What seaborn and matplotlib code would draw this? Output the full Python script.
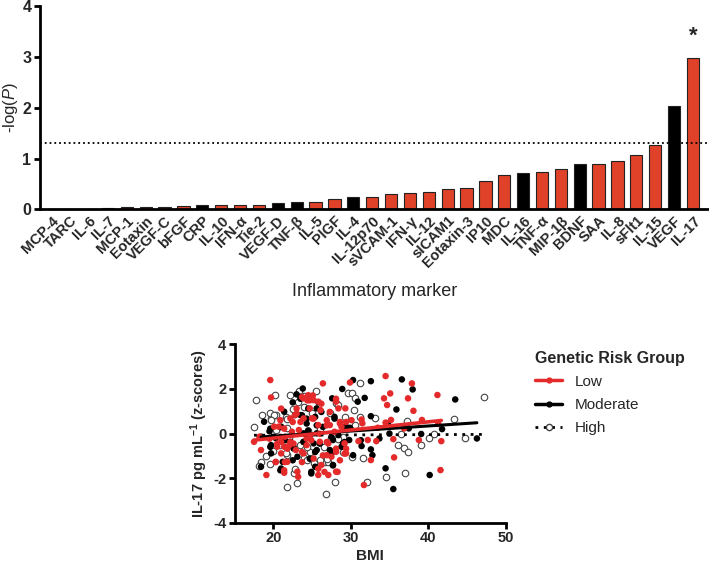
import numpy as np
import pandas as pd
import matplotlib
matplotlib.use('Agg')
import matplotlib.pyplot as plt
import seaborn as sns
from matplotlib.lines import Line2D

# ---- top panel: -log(P) per inflammatory marker ----
markers = ['MCP-4', 'TARC', 'IL-6', 'IL-7', 'MCP-1', 'Eotaxin', 'VEGF-C', 'bFGF', 'CRP',
           'IL-10', 'IFN-α', 'Tie-2', 'VEGF-D', 'TNF-β', 'IL-5', 'PlGF', 'IL-4', 'IL-12p70',
           'sVCAM-1', 'IFN-γ', 'IL-12', 'sICAM1', 'Eotaxin-3', 'IP10', 'MDC', 'IL-16',
           'TNF-α', 'MIP-1β', 'BDNF', 'SAA', 'IL-8', 'sFlt1', 'IL-15', 'VEGF', 'IL-17']
neg_log_p = [0.0, 0.0, 0.0, 0.03, 0.04, 0.04, 0.05, 0.06, 0.085,
             0.09, 0.09, 0.09, 0.12, 0.14, 0.14, 0.20, 0.25, 0.25,
             0.31, 0.33, 0.35, 0.40, 0.43, 0.56, 0.68, 0.72,
             0.73, 0.79, 0.89, 0.89, 0.96, 1.08, 1.26, 2.04, 2.99]
black_markers = ['CRP', 'VEGF-D', 'TNF-β', 'IL-4', 'IL-16', 'BDNF', 'VEGF']
significant = ['IL-17']
threshold = -np.log10(0.05)

# ---- bottom panel: IL-17 z-score vs BMI by genetic risk group ----
low_bmi = [19.6, 19.7, 21.0, 22.2, 23.0, 20.1, 22.4, 17.5, 18.2, 21.0, 20.5, 21.4, 18.4, 21.0,
           22.9, 20.3, 21.8, 21.4, 19.1, 23.1, 23.2, 20.9, 20.7, 21.5, 22.0, 22.6, 22.8,
           26.4, 24.5, 25.2, 25.8, 28.1, 23.9, 24.7, 26.1, 28.4, 23.9, 25.0, 26.9, 30.1,
           25.8, 27.3, 28.6, 23.3, 24.7, 27.9, 24.3, 26.0, 27.1, 29.2, 23.9, 26.9, 28.1,
           29.4, 25.2, 27.5, 26.2, 28.1, 25.8, 27.1,
           23.7, 24.4, 23.0, 23.5, 22.5, 21.4, 19.5, 20.5, 22.2, 24.3, 21.8, 23.7, 20.3,
           21.5, 23.7, 21.4, 25.1, 24.7, 26.2, 28.1, 25.2, 27.3, 28.6, 29.4, 26.9, 26.0,
           24.9, 26.9, 28.1, 29.4, 26.4, 28.6, 25.8, 26.6, 28.3,
           34.5, 29.9, 37.9, 34.3, 35.1, 37.4, 41.2, 34.7, 38.1, 29.3, 31.4, 31.5, 35.2,
           34.5, 39.2, 41.3, 36.9, 33.5, 28.8, 38.8, 41.7, 35.5, 33.3, 32.2, 31.0, 32.6,
           35.6, 41.6, 31.7, 29.2]
low_z = [2.40, 1.62, 1.12, 0.68, 1.12, 0.31, 0.08, -0.37, -0.14, -0.37, -0.59, -0.59, -0.74, -0.89,
         -0.74, -1.27, -1.27, -1.76, -1.86, -1.71, -1.94, 0.60, 0.31, -0.14, -0.55, -0.45, 0.83,
         2.25, 1.72, 1.50, 1.43, 1.43, 1.58, 1.13, 1.05, 1.13, 0.68, 0.68, 0.60, 0.60,
         0.38, 0.38, 0.45, 0.16, -0.14, 0.08, -0.52, -0.37, -0.44, -0.44, -0.89, -0.97, -0.82,
         -0.89, -1.12, -1.04, -1.41, -1.71, -1.86, -1.86,
         1.64, 1.49, 0.89, 0.52, 0.52, 0.22, -0.23, -0.45, -0.38, -0.23, -0.68, -0.83, -1.28,
         -1.28, -1.28, -1.65, 1.71, 1.49, 1.34, 1.56, 0.67, 0.97, 0.52, 0.52, 0.37, -0.01,
         -0.30, -0.38, -0.68, -0.68, -0.98, -1.20, -1.58, -1.72, -1.72,
         2.58, 2.29, 2.25, 1.58, 1.80, 1.58, 1.73, 1.28, 1.02, 1.13, 0.63, 0.46, 0.61,
         0.49, 0.61, 0.43, 0.23, 0.26, 0.31, -0.29, -0.34, -0.25, -0.34, -0.29, -0.34, -1.19,
         -1.07, -1.64, -2.31, -0.90]

mod_bmi = [23.0, 21.4, 22.8, 18.8, 21.0, 18.4, 19.7, 22.2, 19.7, 22.6, 23.1, 18.4, 21.2, 21.0,
           22.5, 20.3, 19.5,
           23.8, 23.5, 27.6, 25.6, 23.5, 25.4, 27.9, 24.3, 26.4, 29.4, 23.9, 25.6, 28.4, 23.9,
           25.2, 27.7, 29.8, 25.6, 27.3, 28.8, 25.4, 27.7, 24.9,
           23.5, 23.7, 24.3, 20.9, 19.6, 20.1, 21.5, 23.9, 19.6, 22.6, 22.5, 20.9,
           25.8, 24.5, 26.2, 27.9, 29.0, 25.6, 24.5, 27.5, 26.0, 29.2, 25.4, 27.5, 24.7, 27.7, 24.9,
           32.6, 36.6, 38.0, 28.9, 30.9, 43.5, 35.9, 32.6, 34.8, 41.8, 29.9, 46.3, 31.4, 32.6,
           32.8, 34.5, 40.2, 35.5, 30.3, 29.0, 30.3, 39.1, 31.8, 35.0, 37.5, 33.7, 31.3]
mod_z = [1.76, 0.98, 0.83, 0.53, 0.31, -0.14, -0.52, -0.37, -0.89, -0.67, -1.04, -1.49, -1.27, -1.57,
         1.40, -0.20, 0.10,
         2.02, 1.65, 1.58, 1.13, 0.83, 0.75, 0.75, 0.45, 0.30, 0.30, 0.01, 0.01, -0.07, -0.37,
         -0.44, -0.29, -0.29, -0.74, -0.74, -0.59, -1.49, -1.41, -1.79,
         1.56, 0.82, 0.67, 0.29, 0.22, -0.15, -0.30, -0.38, -0.60, -0.60, -1.20, -1.65,
         1.41, 1.12, 0.97, 0.67, 0.29, 0.37, 0.14, -0.15, -0.45, -0.38, -0.83, -0.90, -1.13, -1.43, -1.72,
         2.35, 2.43, 1.98, 2.00, 1.43, 1.53, 1.08, 0.78, 0.46, 0.20, 0.26, -0.22, -0.56, -0.71,
         -0.97, -1.56, -1.86, -2.49, -0.97, -0.44, 2.40, -0.02, 1.60, 0.00, 0.23, -0.22, -0.30]

high_bmi = [17.7, 20.2, 22.1, 20.3, 19.7, 21.6, 17.5, 21.8, 21.8, 18.4, 21.7, 23.0, 22.7, 18.2,
            22.5, 20.9, 21.6, 23.9, 25.3, 26.7, 26.8, 28.0,
            23.9, 28.1, 27.3, 29.2, 30.5, 29.0, 23.5, 24.7, 24.3, 27.1,
            25.0, 26.0, 27.5, 24.5, 26.5, 22.0, 20.0, 19.0, 25.5, 24.0, 23.3, 19.5, 18.5,
            23.2, 20.1, 19.7, 21.7, 20.3, 24.3, 19.6, 22.8, 28.4, 28.4, 26.9, 29.0, 26.0,
            31.2, 29.7, 30.1, 30.5, 47.2, 30.4, 31.2, 33.1, 37.3, 43.4, 36.5, 40.1, 40.8, 44.7,
            36.1, 36.9, 37.4, 39.1, 31.6, 34.5, 37.0, 32.1, 30.1]
high_z = [1.50, 1.73, 1.73, 0.83, 0.68, 0.75, 0.31, 0.23, -0.96, -1.27, -2.40, -2.24, -1.79, -1.45,
          1.08, -0.52, -0.89, -1.11, -1.34, -1.26, -2.71, -2.16,
          1.20, 1.35, 0.90, 0.75, 0.38, -0.14, -0.52, -0.82, -1.19, -1.27,
          0.90, 0.20, -0.20, 0.10, -0.60, -0.20, -0.80, -1.00, 1.90, 1.70, 1.90, 0.90, 0.85,
          1.41, 0.82, 0.59, 0.67, 0.14, -0.60, -1.35, -1.58, 1.27, -0.23, -1.13, -0.83, -1.20,
          2.29, 1.83, 1.80, 1.58, 1.65, 1.05, 0.75, 0.68, 0.56, 0.64, -0.04, -0.19, -0.04, -0.19,
          -0.52, -0.67, -0.84, -0.52, -1.09, -1.94, -1.78, -2.16, -1.04]

RED_BAR = '#DF4228'
RED_DOT = '#E42A2A'

sns.set_style('ticks')
plt.rcParams['font.family'] = ['Liberation Sans', 'DejaVu Sans']
plt.rcParams['mathtext.fontset'] = 'custom'
plt.rcParams['mathtext.rm'] = 'Liberation Sans'
plt.rcParams['mathtext.it'] = 'Liberation Sans:italic'
plt.rcParams['mathtext.bf'] = 'Liberation Sans:bold'
plt.rcParams['axes.unicode_minus'] = False

fig = plt.figure(figsize=(7.09, 5.66), dpi=100)


def style_axes(ax):
    sns.despine(ax=ax)
    for side in ['left', 'bottom']:
        ax.spines[side].set_linewidth(2)
        ax.spines[side].set_color('black')
    ax.tick_params(width=2, length=4.5, color='black', pad=1.5)


# top panel
ax1 = fig.add_axes([0.056, 0.630, 0.944, 0.359])
bar_df = pd.DataFrame({'marker': markers, 'value': neg_log_p})
palette = {m: ('black' if m in black_markers else RED_BAR) for m in markers}
sns.barplot(data=bar_df, x='marker', y='value', hue='marker', palette=palette,
            legend=False, width=0.65, saturation=1, edgecolor='#222222',
            linewidth=0.8, ax=ax1)
ax1.axhline(threshold, color='black', ls=':', lw=1.3)
for m in significant:
    i = markers.index(m)
    ax1.text(i, neg_log_p[i] + 0.22, '*', ha='center', va='bottom',
             fontsize=16, fontweight='bold')
ax1.set_xlim(-0.62, len(markers) - 0.15)
ax1.set_ylim(0, 4)
ax1.set_yticks([0, 1, 2, 3, 4])
style_axes(ax1)
ax1.tick_params(axis='x', length=0, pad=3)
plt.setp(ax1.get_xticklabels(), rotation=45, ha='right', rotation_mode='anchor',
         fontsize=10.5, fontweight='bold')
plt.setp(ax1.get_yticklabels(), fontsize=11.5, fontweight='bold')
ax1.set_ylabel('-log($\\mathit{P}$)', fontsize=12)
ax1.yaxis.set_label_coords(-0.029, 0.5)
ax1.set_xlabel('Inflammatory marker', fontsize=13)
ax1.xaxis.set_label_coords(0.5, -0.36)

# bottom panel
ax2 = fig.add_axes([0.331, 0.0765, 0.382, 0.315])
groups = [
    ('High', high_bmi, high_z, dict(color='white', edgecolor='#444444', linewidth=0.8)),
    ('Moderate', mod_bmi, mod_z, dict(color='black', edgecolor='none')),
    ('Low', low_bmi, low_z, dict(color=RED_DOT, edgecolor='none')),
]
for name, bmi, z, kw in groups:
    sns.scatterplot(x=bmi, y=z, s=22, ax=ax2, zorder=2, **kw)

line_styles = {
    'High': dict(color='black', lw=2, ls=(0, (1, 2))),
    'Moderate': dict(color='black', lw=2.2),
    'Low': dict(color=RED_DOT, lw=2.6),
}
for name, bmi, z, kw in groups:
    sns.regplot(x=bmi, y=z, scatter=False, ci=None, truncate=True,
                line_kws=dict(zorder=3, **line_styles[name]), ax=ax2)

ax2.set_xlim(15, 50)
ax2.set_ylim(-4, 4)
ax2.set_xticks([20, 30, 40, 50])
ax2.set_yticks([-4, -2, 0, 2, 4])
style_axes(ax2)
plt.setp(ax2.get_xticklabels() + ax2.get_yticklabels(), fontsize=10.5, fontweight='bold')
ax2.set_xlabel('BMI', fontsize=11, fontweight='bold', labelpad=2.5)
ax2.set_ylabel('IL-17 pg mL$^{\\mathbf{-1}}$ (z-scores)', fontsize=10.5, fontweight='bold',
               labelpad=2)

handles = [
    Line2D([0], [0], color=RED_DOT, lw=2.5, marker='o', ms=3.5),
    Line2D([0], [0], color='black', lw=2.5, marker='o', ms=3.5),
    Line2D([0], [0], color='black', lw=2, ls=(0, (1, 2)), marker='o', ms=4.5,
           mfc='white', mec='#444444'),
]
leg = fig.legend(handles, ['Low', 'Moderate', 'High'], title='Genetic Risk Group',
                 loc='upper left', bbox_to_anchor=(0.735, 0.405), frameon=False,
                 fontsize=11, handlelength=1.8, alignment='left', labelspacing=0.6)
leg.get_title().set_fontweight('bold')
leg.get_title().set_fontsize(11.5)

fig.savefig('out.png', dpi=100)
